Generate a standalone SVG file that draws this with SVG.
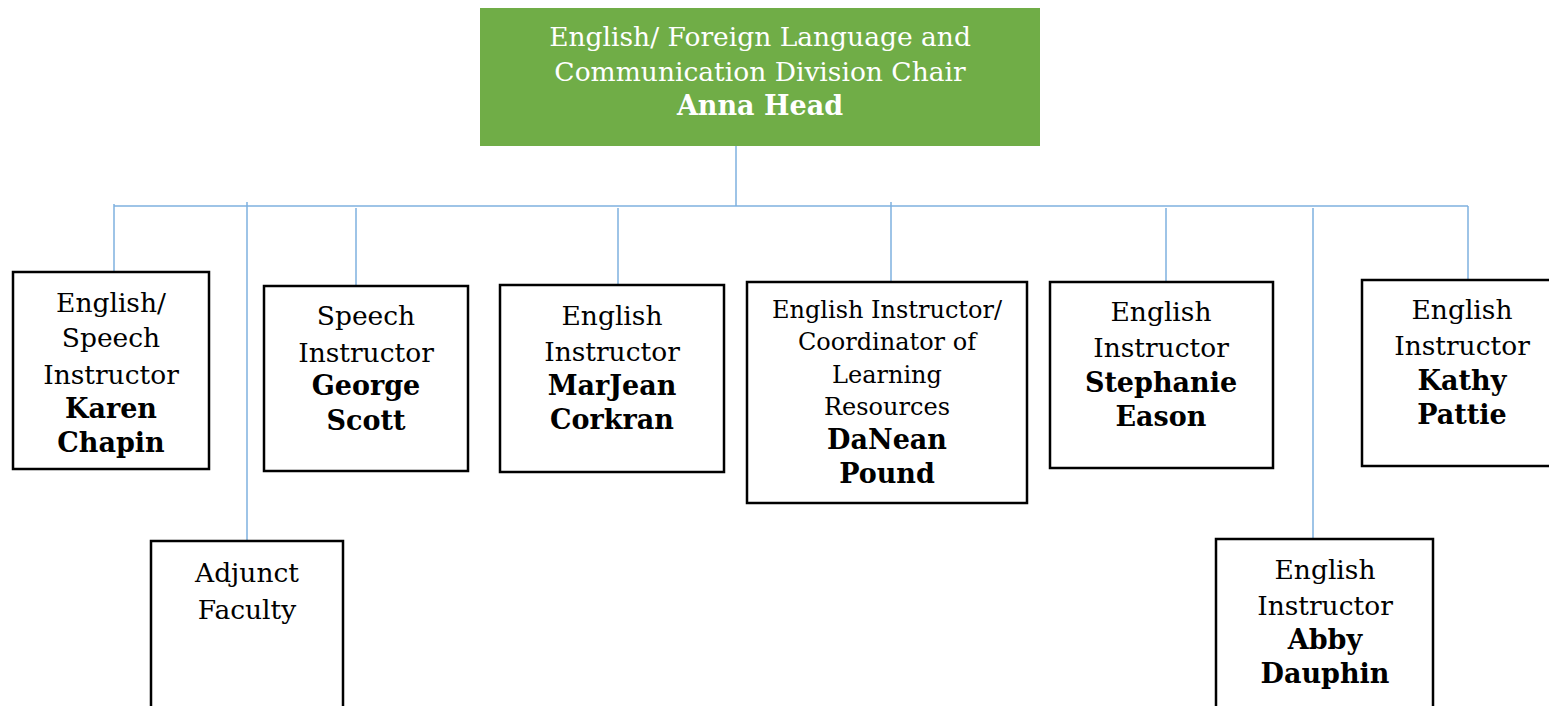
<svg xmlns="http://www.w3.org/2000/svg" width="1549" height="706" viewBox="0 0 1549 706">
  <style>
    .box { fill: #ffffff; stroke: #000000; stroke-width: 2.5; }
    .chair { fill: #70ad47; }
    .t { font-family: "DejaVu Serif", "Liberation Serif", serif; font-size: 26.5px; fill: #000; text-anchor: middle; }
    .s { font-size: 24px; }
    .b { font-weight: bold; font-size: 27px; }
    .w { fill: #ffffff; }
    .link { stroke: #7eb0df; stroke-width: 1.5; fill: none; }
  </style>

  <!-- connectors -->
  <g id="connectors">
    <path class="link" d="M736 146 V206"/>
    <path class="link" d="M114 206 H1468"/>
    <path class="link" d="M114 204 V272"/>
    <path class="link" d="M247 202 V541"/>
    <path class="link" d="M356 208 V286"/>
    <path class="link" d="M618 208 V284"/>
    <path class="link" d="M891 202 V282"/>
    <path class="link" d="M1166 208 V282"/>
    <path class="link" d="M1313 208 V539"/>
    <path class="link" d="M1468 206 V280"/>
  </g>

  <g id="chair">
    <rect class="chair" x="480" y="8" width="560" height="138"/>
    <text class="t w" x="760" y="46">English/ Foreign Language and</text>
    <text class="t w" x="760" y="81">Communication Division Chair</text>
    <text class="t w b" x="760" y="115">Anna Head</text>
  </g>

  <g id="karen-chapin">
    <rect class="box" x="13" y="272" width="196" height="197"/>
    <text class="t" x="111" y="312">English/</text>
    <text class="t" x="111" y="347">Speech</text>
    <text class="t" x="111" y="384">Instructor</text>
    <text class="t b" x="111" y="418">Karen</text>
    <text class="t b" x="111" y="452">Chapin</text>
  </g>

  <g id="adjunct-faculty">
    <rect class="box" x="151" y="541" width="192" height="180"/>
    <text class="t" x="247" y="582">Adjunct</text>
    <text class="t" x="247" y="619">Faculty</text>
  </g>

  <g id="george-scott">
    <rect class="box" x="264" y="286" width="204" height="185"/>
    <text class="t" x="366" y="325">Speech</text>
    <text class="t" x="366" y="362">Instructor</text>
    <text class="t b" x="366" y="395">George</text>
    <text class="t b" x="366" y="430">Scott</text>
  </g>

  <g id="marjean-corkran">
    <rect class="box" x="500" y="285" width="224" height="187"/>
    <text class="t" x="612" y="325">English</text>
    <text class="t" x="612" y="361">Instructor</text>
    <text class="t b" x="612" y="395">MarJean</text>
    <text class="t b" x="612" y="429">Corkran</text>
  </g>

  <g id="danean-pound">
    <rect class="box" x="747" y="282" width="280" height="221"/>
    <text class="t s" x="887" y="318">English Instructor/</text>
    <text class="t s" x="887" y="350">Coordinator of</text>
    <text class="t s" x="887" y="383">Learning</text>
    <text class="t s" x="887" y="415">Resources</text>
    <text class="t b" x="887" y="449">DaNean</text>
    <text class="t b" x="887" y="483">Pound</text>
  </g>

  <g id="stephanie-eason">
    <rect class="box" x="1050" y="282" width="223" height="186"/>
    <text class="t" x="1161" y="321">English</text>
    <text class="t" x="1161" y="357">Instructor</text>
    <text class="t b" x="1161" y="392">Stephanie</text>
    <text class="t b" x="1161" y="426">Eason</text>
  </g>

  <g id="kathy-pattie">
    <rect class="box" x="1362" y="280" width="210" height="186"/>
    <text class="t" x="1462" y="319">English</text>
    <text class="t" x="1462" y="355">Instructor</text>
    <text class="t b" x="1462" y="390">Kathy</text>
    <text class="t b" x="1462" y="424">Pattie</text>
  </g>

  <g id="abby-dauphin">
    <rect class="box" x="1216" y="539" width="217" height="180"/>
    <text class="t" x="1325" y="579">English</text>
    <text class="t" x="1325" y="615">Instructor</text>
    <text class="t b" x="1325" y="649">Abby</text>
    <text class="t b" x="1325" y="683">Dauphin</text>
  </g>
</svg>
